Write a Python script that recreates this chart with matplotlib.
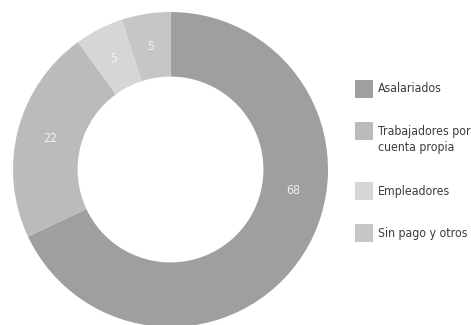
import matplotlib
matplotlib.use("Agg")
import matplotlib.pyplot as plt
from matplotlib.patches import Rectangle
import numpy as np

categories = ["Asalariados", "Trabajadores por\ncuenta propia", "Empleadores", "Sin pago y otros"]
values = [68, 22, 5, 5]
colors = ["#9f9f9f", "#bbbbbb", "#d6d6d6", "#c6c6c6"]

W, H = 471, 325
fig = plt.figure(figsize=(W / 100, H / 100), dpi=100)
fig.patch.set_facecolor("white")

cx, cy, R = 170.5, 325 - 169.5, 157.5
ax = fig.add_axes([(cx - R) / W, (cy - R) / H, 2 * R / W, 2 * R / H])

wedges, texts = ax.pie(values, colors=colors, startangle=90, counterclock=False,
                       radius=1, wedgeprops=dict(width=0.41, edgecolor="none"),
                       labels=None)
ax.set_xlim(-1, 1)
ax.set_ylim(-1, 1)
ax.set_aspect("equal")
ax.axis("off")

font = "DejaVu Sans"
stretch = "condensed"

# value labels
label_r = 0.79
angles = []
start = 90.0
total = sum(values)
for v in values:
    span = 360.0 * v / total
    angles.append(start - span / 2)
    start -= span
angles[0] = -9.6  # first label sits nearer the horizontal
for a, v in zip(angles, values):
    t = np.deg2rad(a)
    ax.text(label_r * np.cos(t), label_r * np.sin(t), str(v), ha="center", va="center",
            color="#f2f2f2", fontsize=8.8, family=font, fontstretch=stretch)

# legend drawn manually
rows_y = [89, 131, 191, 233]
sq = 18
for lab, col, yc in zip(categories, colors, rows_y):
    fig.patches.append(Rectangle((355 / W, (H - yc - sq / 2) / H), sq / W, sq / H,
                                 transform=fig.transFigure, facecolor=col,
                                 edgecolor="none"))
    parts = lab.split("\n")
    for i, p in enumerate(parts):
        fig.text(378 / W, (H - yc - 17 * i) / H, p, ha="left", va="center",
                 fontsize=8.8, color="#3c3c3c", family=font, fontstretch=stretch)

fig.savefig("out.png", dpi=100, facecolor="white")
